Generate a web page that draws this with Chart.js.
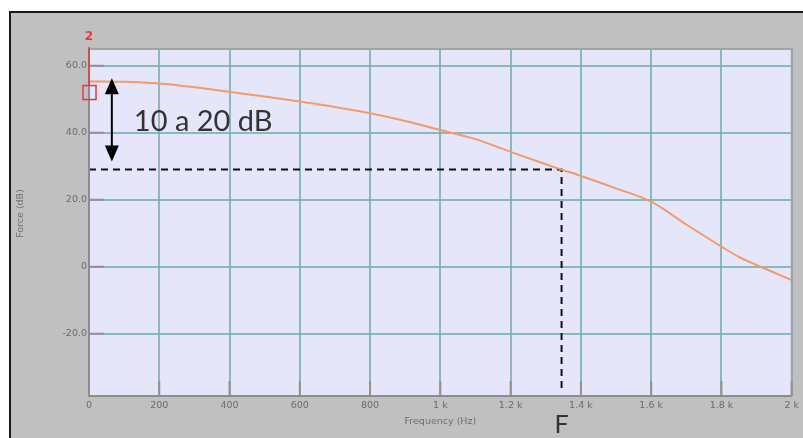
<!DOCTYPE html>
<html>
<head>
<meta charset="utf-8">
<script src="https://cdn.jsdelivr.net/npm/chart.js@4/dist/chart.umd.min.js"></script>
<style>
  html, body { margin: 0; padding: 0; background: #fff; overflow: hidden; }
  canvas { display: block; }
</style>
</head>
<body>
<canvas id="chart" width="803" height="438"></canvas>
<script>
// curve (Hz, dB)
const freqs   = [0, 100, 200, 300, 400, 500, 600, 700, 800, 900, 1000, 1100, 1200, 1300, 1345, 1400, 1500, 1600, 1700, 1800, 1850, 1900, 2000];
const forceDb = [55.3, 55.2, 54.7, 53.6, 52.2, 50.8, 49.3, 47.7, 45.8, 43.5, 40.8, 38.1, 34.3, 30.6, 29.0, 27.1, 23.4, 19.4, 12.6, 6.0, 2.9, 0.5, -4.0];

const xTicks = [0, 200, 400, 600, 800, 1000, 1200, 1400, 1600, 1800, 2000];
const xTickLabels = ['0', '200', '400', '600', '800', '1 k', '1.2 k', '1.4 k', '1.6 k', '1.8 k', '2 k'];
const yTicks = [-20, 0, 20, 40, 60];
const yTickLabels = ['-20.0', '0', '20.0', '40.0', '60.0'];

// annotations
const cutFreq = 1345;
const cutLevel = 29.0;
const arrowFreq = 65;
const arrowTop = 56.3;
const arrowBottom = 31.4;
const markerLevel = 52.0;

const yMin = -38.6, yMax = 65;

const tickFont = { family: 'DejaVu Sans', size: 9.5 };
const tickColor = '#6a6a6a';
const gridColor = 'rgba(112,172,178,0.8)';

const framePlugin = {
  id: 'frame',
  beforeDraw(chart) {
    const { ctx, chartArea: a } = chart;
    ctx.save();
    ctx.fillStyle = '#fff';
    ctx.fillRect(0, 0, chart.width, chart.height);
    ctx.fillStyle = '#c0c0c0';
    ctx.fillRect(10, 12, chart.width - 10, chart.height - 12);
    ctx.fillStyle = '#1a1a1a';
    ctx.fillRect(9, 11, chart.width - 9, 2);
    ctx.fillRect(9, 11, 2, chart.height - 11);
    ctx.fillStyle = '#e6e6fb';
    ctx.fillRect(a.left, a.top, a.right - a.left, a.bottom - a.top);
    ctx.restore();
  },
  afterDraw(chart) {
    const { ctx, chartArea: a, scales: { x, y } } = chart;
    ctx.save();
    // plot border
    ctx.strokeStyle = '#a4a4a4';
    ctx.lineWidth = 2;
    ctx.beginPath();
    ctx.moveTo(a.left, a.top);
    ctx.lineTo(a.right, a.top);
    ctx.lineTo(a.right, a.bottom);
    ctx.stroke();
    // inner tick marks
    ctx.strokeStyle = '#9a8e8e';
    yTicks.forEach(v => {
      const py = y.getPixelForValue(v);
      ctx.beginPath(); ctx.moveTo(a.left, py); ctx.lineTo(a.left + 15, py); ctx.stroke();
    });
    xTicks.forEach(v => {
      const px = x.getPixelForValue(v);
      ctx.beginPath(); ctx.moveTo(px, a.bottom); ctx.lineTo(px, a.bottom - 15); ctx.stroke();
    });
    ctx.strokeStyle = '#8c8c8c';
    ctx.beginPath();
    ctx.moveTo(a.left, a.top); ctx.lineTo(a.left, a.bottom); ctx.lineTo(a.right, a.bottom);
    ctx.stroke();

    // red cursor
    const x0 = x.getPixelForValue(0);
    const my = y.getPixelForValue(markerLevel);
    ctx.strokeStyle = '#e8383a';
    ctx.lineWidth = 1.5;
    ctx.beginPath(); ctx.moveTo(x0, a.top - 2); ctx.lineTo(x0, my - 7); ctx.stroke();
    ctx.strokeRect(x0 - 6, my - 7, 13, 14);
    ctx.fillStyle = '#e8383a';
    ctx.font = 'bold 12px "DejaVu Sans"';
    ctx.textAlign = 'center';
    ctx.textBaseline = 'middle';
    ctx.fillText('2', x0, a.top - 12);

    // double arrow
    const ax = x.getPixelForValue(arrowFreq);
    const at = y.getPixelForValue(arrowTop);
    const ab = y.getPixelForValue(arrowBottom);
    ctx.strokeStyle = '#000';
    ctx.fillStyle = '#000';
    ctx.lineWidth = 2;
    ctx.beginPath(); ctx.moveTo(ax, at + 10); ctx.lineTo(ax, ab - 10); ctx.stroke();
    ctx.beginPath(); ctx.moveTo(ax, at); ctx.lineTo(ax - 7, at + 16); ctx.lineTo(ax + 7, at + 16); ctx.closePath(); ctx.fill();
    ctx.beginPath(); ctx.moveTo(ax, ab); ctx.lineTo(ax - 7, ab - 16); ctx.lineTo(ax + 7, ab - 16); ctx.closePath(); ctx.fill();

    ctx.fillStyle = '#333';
    ctx.font = '29px Lato';
    ctx.textAlign = 'left';
    ctx.textBaseline = 'alphabetic';
    ctx.fillText('10 a 20 dB', ax + 22, (at + ab) / 2 + 11);

    ctx.font = '25px Lato';
    ctx.textAlign = 'center';
    ctx.fillText('F', x.getPixelForValue(cutFreq), 433);

    // axis titles
    ctx.fillStyle = '#6e6e6e';
    ctx.font = '9.5px "DejaVu Sans"';
    ctx.textBaseline = 'middle';
    ctx.fillText('Frequency (Hz)', (a.left + a.right) / 2, 422);
    ctx.translate(21, (a.top + a.bottom) / 2 - 9);
    ctx.rotate(-Math.PI / 2);
    ctx.fillText('Force (dB)', 0, 0);
    ctx.restore();
  }
};

new Chart(document.getElementById('chart'), {
  type: 'line',
  data: {
    datasets: [
      {
        data: freqs.map((f, i) => ({ x: f, y: forceDb[i] })),
        borderColor: '#f49a68',
        borderWidth: 2,
        pointRadius: 0,
        cubicInterpolationMode: 'monotone'
      },
      {
        data: [{ x: 0, y: cutLevel }, { x: cutFreq, y: cutLevel }, { x: cutFreq, y: yMin + 1 }],
        borderColor: '#111',
        borderWidth: 2,
        borderDash: [7, 5],
        pointRadius: 0,
        tension: 0
      }
    ]
  },
  options: {
    responsive: false,
    animation: false,
    layout: { padding: { left: 0, top: 49, right: 10, bottom: 0 } },
    plugins: { legend: { display: false }, tooltip: { enabled: false }, title: { display: false } },
    scales: {
      x: {
        type: 'linear',
        min: 0,
        max: 2000,
        afterBuildTicks: s => { s.ticks = xTicks.map(v => ({ value: v })); },
        afterFit: s => { s.height = 42; },
        ticks: {
          callback: v => xTickLabels[xTicks.indexOf(v)],
          color: tickColor,
          font: tickFont,
          padding: 4,
          maxRotation: 0,
          autoSkip: false
        },
        grid: { color: gridColor, lineWidth: 2, drawTicks: false },
        border: { display: false }
      },
      y: {
        min: yMin,
        max: yMax,
        afterBuildTicks: s => { s.ticks = yTicks.map(v => ({ value: v })); },
        afterFit: s => { s.width = 89; },
        ticks: {
          callback: v => yTickLabels[yTicks.indexOf(v)],
          color: tickColor,
          font: tickFont,
          padding: 2
        },
        grid: { color: gridColor, lineWidth: 2, drawTicks: false },
        border: { display: false }
      }
    }
  },
  plugins: [framePlugin]
});
</script>
</body>
</html>
